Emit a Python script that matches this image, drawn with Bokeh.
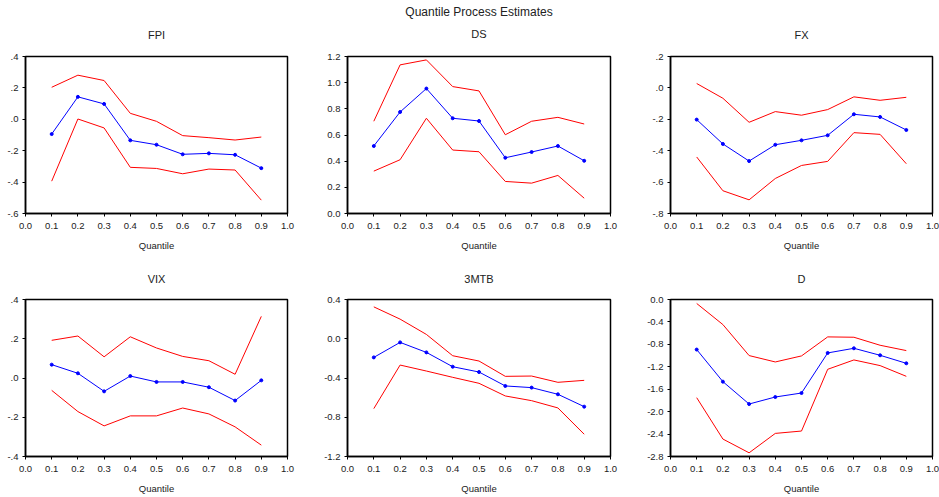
from bokeh.plotting import figure
from bokeh.models import Range1d, FixedTicker, Title
from bokeh.layouts import column, row
from bokeh.embed import file_html
from bokeh.resources import INLINE

# ---------------- data ----------------
quantiles = [0.1, 0.2, 0.3, 0.4, 0.5, 0.6, 0.7, 0.8, 0.9]
x_ticks = [0.0, 0.1, 0.2, 0.3, 0.4, 0.5, 0.6, 0.7, 0.8, 0.9, 1.0]
x_tick_labels = ["0.0", "0.1", "0.2", "0.3", "0.4", "0.5", "0.6", "0.7", "0.8", "0.9", "1.0"]

main_title = "Quantile Process Estimates"
x_label = "Quantile"

fpi_est = [-0.094, 0.143, 0.098, -0.134, -0.162, -0.223, -0.217, -0.226, -0.311]
fpi_upper = [0.204, 0.281, 0.247, 0.038, -0.013, -0.104, -0.117, -0.132, -0.113]
fpi_lower = [-0.394, 0.002, -0.055, -0.306, -0.313, -0.347, -0.317, -0.323, -0.515]
fpi_yticks = [-0.6, -0.4, -0.2, 0.0, 0.2, 0.4]
fpi_ylabels = ["-.6", "-.4", "-.2", ".0", ".2", ".4"]

ds_est = [0.516, 0.776, 0.955, 0.728, 0.707, 0.426, 0.470, 0.516, 0.403]
ds_upper = [0.705, 1.136, 1.174, 0.970, 0.937, 0.602, 0.705, 0.735, 0.684]
ds_lower = [0.324, 0.411, 0.728, 0.485, 0.472, 0.245, 0.232, 0.291, 0.117]
ds_yticks = [0.0, 0.2, 0.4, 0.6, 0.8, 1.0, 1.2]
ds_ylabels = ["0.0", "0.2", "0.4", "0.6", "0.8", "1.0", "1.2"]

fx_est = [-0.202, -0.357, -0.466, -0.362, -0.334, -0.302, -0.168, -0.185, -0.268]
fx_upper = [0.028, -0.066, -0.219, -0.151, -0.174, -0.138, -0.057, -0.079, -0.060]
fx_lower = [-0.440, -0.655, -0.713, -0.577, -0.494, -0.468, -0.285, -0.296, -0.483]
fx_yticks = [-0.8, -0.6, -0.4, -0.2, 0.0, 0.2]
fx_ylabels = ["-.8", "-.6", "-.4", "-.2", ".0", ".2"]

vix_est = [0.068, 0.024, -0.068, 0.010, -0.020, -0.020, -0.047, -0.115, -0.012]
vix_upper = [0.192, 0.214, 0.108, 0.210, 0.153, 0.110, 0.088, 0.019, 0.314]
vix_lower = [-0.063, -0.171, -0.244, -0.193, -0.193, -0.153, -0.183, -0.249, -0.342]
vix_yticks = [-0.4, -0.2, 0.0, 0.2, 0.4]
vix_ylabels = ["-.4", "-.2", ".0", ".2", ".4"]

tb_est = [-0.190, -0.037, -0.139, -0.285, -0.339, -0.481, -0.498, -0.566, -0.692]
tb_upper = [0.325, 0.200, 0.044, -0.173, -0.227, -0.383, -0.380, -0.444, -0.424]
tb_lower = [-0.712, -0.268, -0.329, -0.393, -0.454, -0.583, -0.631, -0.705, -0.973]
tb_yticks = [-1.2, -0.8, -0.4, 0.0, 0.4]
tb_ylabels = ["-1.2", "-0.8", "-0.4", "0.0", "0.4"]

d_est = [-0.893, -1.465, -1.864, -1.739, -1.668, -0.953, -0.870, -0.995, -1.138]
d_upper = [-0.071, -0.447, -1.000, -1.114, -1.006, -0.667, -0.673, -0.816, -0.911]
d_lower = [-1.751, -2.489, -2.734, -2.388, -2.346, -1.245, -1.078, -1.179, -1.370]
d_yticks = [-2.8, -2.4, -2.0, -1.6, -1.2, -0.8, -0.4, 0.0]
d_ylabels = ["-2.8", "-2.4", "-2.0", "-1.6", "-1.2", "-0.8", "-0.4", "0.0"]

FONT = "Liberation Sans"
TXT = "#222222"


def make_panel(name, est, upper, lower, yticks, ylabels, width, height,
               bl, br, bt, bb, title_standoff, extra_title=None, extra_standoff=0):
    p = figure(width=width, height=height, output_backend="svg",
               toolbar_location=None, tools="",
               x_range=Range1d(x_ticks[0], x_ticks[-1]),
               y_range=Range1d(yticks[0], yticks[-1]),
               min_border_left=bl, min_border_right=br,
               min_border_top=bt, min_border_bottom=bb)
    p.title = None
    p.add_layout(Title(text=name, align="center", text_font=FONT,
                       text_font_size="11px", text_font_style="normal",
                       text_color=TXT, standoff=title_standoff), "above")
    if extra_title is not None:
        p.add_layout(Title(text=extra_title, align="center", text_font=FONT,
                           text_font_size="12px", text_font_style="normal",
                           text_color=TXT, standoff=extra_standoff), "above")
    p.line(quantiles, upper, color="#ff0000", line_width=1)
    p.line(quantiles, lower, color="#ff0000", line_width=1)
    p.line(quantiles, est, color="#0000ff", line_width=1)
    p.scatter(quantiles, est, size=3, color="#0000ff")

    p.xgrid.visible = False
    p.ygrid.visible = False
    p.outline_line_color = "black"
    p.outline_line_width = 1.5
    p.outline_line_alpha = 1
    p.background_fill_color = "white"
    p.border_fill_color = "white"

    p.xaxis.ticker = FixedTicker(ticks=x_ticks)
    p.xaxis.major_label_overrides = {t: l for t, l in zip(x_ticks, x_tick_labels)}
    p.yaxis.ticker = FixedTicker(ticks=yticks)
    p.yaxis.major_label_overrides = {t: l for t, l in zip(yticks, ylabels)}
    p.xaxis.axis_label = x_label
    for ax in (p.xaxis, p.yaxis):
        ax.axis_line_color = "black"
        ax.axis_line_width = 1.5
        ax.major_tick_line_color = "black"
        ax.major_tick_line_width = 1
        ax.minor_tick_line_color = None
        ax.major_tick_in = 0
        ax.major_tick_out = 3
        ax.major_label_text_font = FONT
        ax.major_label_text_font_size = "9.5px"
        ax.major_label_text_color = TXT
        ax.axis_label_text_font = FONT
        ax.axis_label_text_font_size = "9.5px"
        ax.axis_label_text_font_style = "normal"
        ax.axis_label_text_color = TXT
    p.yaxis.major_label_standoff = 4
    p.xaxis.major_label_standoff = 6
    p.xaxis.axis_label_standoff = 8
    return p


# column geometry: (width, border_left, border_right)
cols = [(310, 25, 23), (310, 37, 10), (319, 50, 7)]
# row geometry: (height, border_top, border_bottom, title standoff)
row1 = (254, 56, 41, 31)
row2 = (242, 45, 39, 30)
ds_standoff = 34
main_standoff = -20

f1 = make_panel("FPI", fpi_est, fpi_upper, fpi_lower, fpi_yticks, fpi_ylabels,
                cols[0][0], row1[0], cols[0][1], cols[0][2], row1[1], row1[2], row1[3])
f2 = make_panel("DS", ds_est, ds_upper, ds_lower, ds_yticks, ds_ylabels,
                cols[1][0], row1[0], cols[1][1], cols[1][2], row1[1], row1[2], ds_standoff,
                extra_title=main_title, extra_standoff=main_standoff)
f3 = make_panel("FX", fx_est, fx_upper, fx_lower, fx_yticks, fx_ylabels,
                cols[2][0], row1[0], cols[2][1], cols[2][2], row1[1], row1[2], row1[3])
f4 = make_panel("VIX", vix_est, vix_upper, vix_lower, vix_yticks, vix_ylabels,
                cols[0][0], row2[0], cols[0][1], cols[0][2], row2[1], row2[2], row2[3])
f5 = make_panel("3MTB", tb_est, tb_upper, tb_lower, tb_yticks, tb_ylabels,
                cols[1][0], row2[0], cols[1][1], cols[1][2], row2[1], row2[2], row2[3])
f6 = make_panel("D", d_est, d_upper, d_lower, d_yticks, d_ylabels,
                cols[2][0], row2[0], cols[2][1], cols[2][2], row2[1], row2[2], row2[3])

layout = column(row(f1, f2, f3, spacing=0), row(f4, f5, f6, spacing=0), spacing=0)

open("out.html", "w").write(file_html(layout, INLINE))
